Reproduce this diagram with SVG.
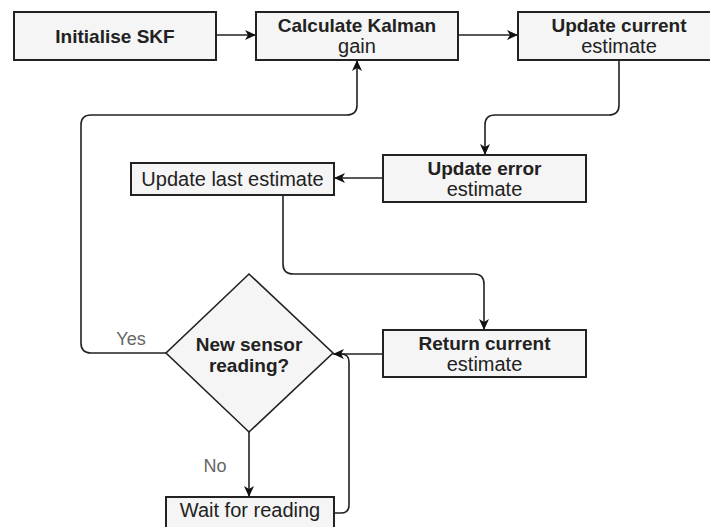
<svg xmlns="http://www.w3.org/2000/svg" width="710" height="527" viewBox="0 0 710 527">
<defs>
<marker id="arr" markerUnits="userSpaceOnUse" markerWidth="12" markerHeight="10" refX="11" refY="5" orient="auto">
<path d="M0,0 L11,5 L0,10 L3,5 Z" fill="#111"/>
</marker>
<style>
.box{fill:#f5f5f5;stroke:#222;stroke-width:2}
.b{font-family:"Liberation Sans",Arial,sans-serif;font-weight:bold;font-size:19px;fill:#222;text-anchor:middle}
.r{font-family:"Liberation Sans",Arial,sans-serif;font-size:20px;fill:#222;text-anchor:middle}
.lbl{font-family:"Liberation Sans",Arial,sans-serif;font-size:18px;fill:#666;text-anchor:middle}
.c{fill:none;stroke:#222;stroke-width:1.6}
</style>
</defs>
<rect width="710" height="527" fill="#fff"/>
<g id="connectors">
<path class="c" d="M216,35 H256" marker-end="url(#arr)"/>
<path class="c" d="M458,35 H518" marker-end="url(#arr)"/>
<path class="c" d="M619,60 V105 Q619,115 609,115 H495 Q485,115 485,125 V155" marker-end="url(#arr)"/>
<path class="c" d="M383,178 H334" marker-end="url(#arr)"/>
<path class="c" d="M283,195 V264 Q283,274 293,274 H474 Q484,274 484,284 V330" marker-end="url(#arr)"/>
<path class="c" d="M383,354 H333" marker-end="url(#arr)"/>
<path class="c" d="M334,513 H341 Q349,513 349,505 V362 Q349,354 341,354"/>
<path class="c" d="M166,353 H91 Q81,353 81,343 V125 Q81,115 91,115 H347 Q357,115 357,105 V60" marker-end="url(#arr)"/>
<path class="c" d="M249,432 V497" marker-end="url(#arr)"/>
<text class="lbl" x="131" y="345">Yes</text>
<text class="lbl" x="215" y="472">No</text>
</g>
<g id="init">
<rect class="box" x="14" y="12" width="202" height="48"/>
<text class="b" x="115" y="43">Initialise SKF</text>
</g>
<g id="kalman">
<rect class="box" x="256" y="12" width="202" height="48"/>
<text class="b" x="357" y="32">Calculate Kalman</text>
<text class="r" x="357" y="53">gain</text>
</g>
<g id="update-current">
<rect class="box" x="518" y="12" width="203" height="48"/>
<text class="b" x="619" y="32">Update current</text>
<text class="r" x="619" y="53">estimate</text>
</g>
<g id="update-error">
<rect class="box" x="383" y="155" width="203" height="47"/>
<text class="b" x="484.5" y="175">Update error</text>
<text class="r" x="484.5" y="196">estimate</text>
</g>
<g id="update-last">
<rect class="box" x="131" y="163" width="203" height="32"/>
<text class="r" x="232.5" y="186">Update last estimate</text>
</g>
<g id="return-current">
<rect class="box" x="383" y="330" width="203" height="47"/>
<text class="b" x="484.5" y="350">Return current</text>
<text class="r" x="484.5" y="371">estimate</text>
</g>
<g id="decision">
<polygon class="box" points="249,274 333,353 249,432 166,353" style="stroke-width:1.6"/>
<text class="b" x="249" y="351">New sensor</text>
<text class="b" x="249" y="372">reading?</text>
</g>
<g id="wait">
<rect class="box" x="166" y="497" width="168" height="40"/>
<text class="r" x="250" y="517">Wait for reading</text>
</g>
</svg>
